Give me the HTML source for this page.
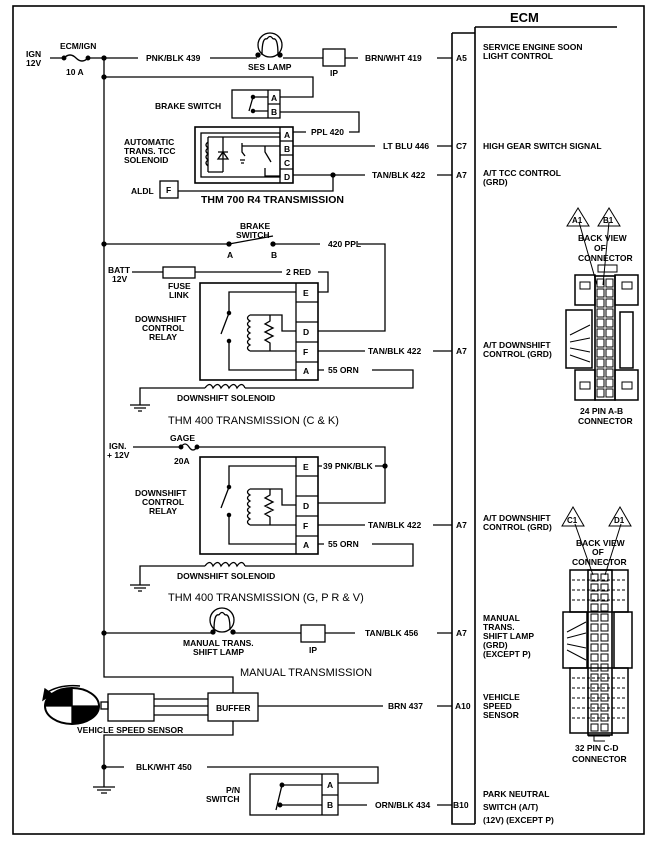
<!DOCTYPE html>
<html><head><meta charset="utf-8"><style>
html,body{margin:0;padding:0;background:#fff}
svg{display:block}
text{font-family:"Liberation Sans",sans-serif;font-weight:bold;font-size:8.5px;fill:#000}
.t{font-size:11px;font-weight:normal}
</style></head><body>
<svg width="669" height="857" viewBox="0 0 669 857" xmlns="http://www.w3.org/2000/svg" fill="none" stroke="#000" stroke-width="1.3">
<rect x="13" y="6" width="631" height="828" stroke-width="1.6"/>
<line x1="475" y1="27" x2="617" y2="27" stroke-width="1.6"/>
<path d="M475 27 V824 M452 33 H475 M452 33 V824 H475" stroke-width="1.6"/>
<text x="510" y="22" class="t" style="font-size:13px;font-weight:bold" stroke="none">ECM</text>

<text x="26" y="57" stroke="none">IGN</text><text x="26" y="66" stroke="none">12V</text>
<path d="M50 58 H64 M64 58 q6 -6 12 0 q6 6 12 0 H138 M210 58 H257 M283 58 H323 M345 58 H358 M437 58 H452"/>
<circle cx="64" cy="58" r="1.8" fill="#000"/><circle cx="88" cy="58" r="1.8" fill="#000"/>
<text x="60" y="49" stroke="none">ECM/IGN</text><text x="66" y="75" stroke="none">10 A</text>
<text x="146" y="61" stroke="none">PNK/BLK 439</text>
<circle cx="270" cy="45" r="12"/><path d="M262 55 q0 -18 5 -16 M278 55 q0 -18 -5 -16 M267 39 q3 -5 6 0"/>
<circle cx="258" cy="55" r="2" fill="#000"/><circle cx="280" cy="55" r="2" fill="#000"/>
<text x="248" y="70" stroke="none">SES LAMP</text>
<rect x="323" y="49" width="22" height="17"/><text x="330" y="76" stroke="none">IP</text>
<text x="365" y="61" stroke="none">BRN/WHT  419</text><text x="456" y="61" stroke="none">A5</text>
<text x="483" y="50" stroke="none">SERVICE ENGINE SOON</text><text x="483" y="59" stroke="none">LIGHT CONTROL</text>

<path d="M104 58 V677 H233 V693 M233 721 V735 H104 V787"/>
<circle cx="104" cy="58" r="2" fill="#000"/><circle cx="104" cy="77" r="2" fill="#000"/>
<path d="M104 77 H313 V97 H280"/>
<rect x="232" y="90" width="48" height="28"/><path d="M268 90 V118 M268 104 H280"/>
<text x="271" y="101" stroke="none">A</text><text x="271" y="115" stroke="none">B</text>
<path d="M253 97 H268 M253 97 L249 111 M253 111 H268"/><circle cx="253" cy="97" r="1.6" fill="#000"/><circle cx="253" cy="111" r="1.6" fill="#000"/>
<text x="155" y="109" stroke="none">BRAKE SWITCH</text>
<path d="M280 112 H359 V132 H349 M306 132 H293"/>
<text x="311" y="135" stroke="none">PPL 420</text>
<rect x="195" y="127" width="98" height="56" stroke-width="1.6"/>
<rect x="201" y="133" width="79" height="44"/>
<path d="M280 127 V183 M280 141 H293 M280 155 H293 M280 169 H293"/>
<text x="284" y="138" stroke="none">A</text><text x="284" y="152" stroke="none">B</text><text x="284" y="166" stroke="none">C</text><text x="284" y="180" stroke="none">D</text>
<path d="M208 137 V172 M208 137 h15 M208 172 h15 M223 137 V172 M208 142 q-4 3 0 6 q-4 3 0 6 q-4 3 0 6 q-4 3 0 6"/>
<path d="M218 159 h10 l-5 -7 z M218 152 h10" /><path d="M242 143 V152 l3 4 M240 160 h5 M241 163 h3"/>
<path d="M223 137 H280 M242 146 H265 H280 M265 146 V152 l6 10 M265 168 V176 H280"/>
<text x="124" y="145" stroke="none">AUTOMATIC</text><text x="124" y="154" stroke="none">TRANS. TCC</text><text x="124" y="163" stroke="none">SOLENOID</text>
<path d="M293 146 H375 M437 146 H452 M293 175 H365 M437 175 H452 M178 191 H333 V175"/>
<circle cx="333" cy="175" r="2" fill="#000"/>
<text x="383" y="149" stroke="none">LT BLU 446</text><text x="456" y="149" stroke="none">C7</text>
<text x="483" y="149" stroke="none">HIGH GEAR SWITCH SIGNAL</text>
<text x="372" y="178" stroke="none">TAN/BLK  422</text><text x="456" y="178" stroke="none">A7</text>
<text x="483" y="176" stroke="none">A/T TCC CONTROL</text><text x="483" y="185" stroke="none">(GRD)</text>
<rect x="160" y="181" width="18" height="17"/><text x="166" y="193" stroke="none">F</text><text x="131" y="194" stroke="none">ALDL</text>
<text x="201" y="203" class="t" style="font-weight:bold;font-size:10.5px" stroke="none">THM 700 R4 TRANSMISSION</text>

<circle cx="104" cy="244" r="2" fill="#000"/>
<path d="M104 244 H229 L273 236 M273 244 H320 M358 244 H385 V331 H318"/>
<circle cx="229" cy="244" r="2" fill="#000"/><circle cx="273" cy="244" r="2" fill="#000"/>
<text x="240" y="229" stroke="none">BRAKE</text><text x="236" y="238" stroke="none">SWITCH</text>
<text x="227" y="258" stroke="none">A</text><text x="271" y="258" stroke="none">B</text>
<text x="328" y="247" stroke="none">420 PPL</text>
<text x="108" y="273" stroke="none">BATT</text><text x="112" y="282" stroke="none">12V</text>
<path d="M132 272 H163 M195 272 H282 M318 272 H328 V292 H318"/>
<rect x="163" y="267" width="32" height="11"/>
<text x="168" y="289" stroke="none">FUSE</text><text x="169" y="298" stroke="none">LINK</text>
<text x="286" y="275" stroke="none">2 RED</text>
<g id="relay">
<rect x="200" y="283" width="118" height="97" stroke-width="1.6"/>
<path d="M296 283 V380 M296 302 H318 M296 322 H318 M296 342 H318 M296 362 H318"/>
<text x="303" y="296" stroke="none">E</text><text x="303" y="335" stroke="none">D</text><text x="303" y="355" stroke="none">F</text><text x="303" y="374" stroke="none">A</text>
<path d="M296 292 H229 V313 M229 313 L221 334 M229 341 V370 H296"/>
<circle cx="229" cy="313" r="1.6" fill="#000"/><circle cx="229" cy="341" r="1.6" fill="#000"/>
<path d="M270 315 H282 V331 H296 M270 351 H296 M250 315 H270 M250 351 H270 M250 315 q-5 3 0 6 q-5 3 0 6 q-5 3 0 6 q-5 3 0 6 q-5 3 0 6 q-5 3 0 6 M270 315 V321 l-5 3 l8 4 l-8 4 l8 4 l-8 4 l5 3 V351"/>
</g>
<text x="135" y="322" stroke="none">DOWNSHIFT</text><text x="142" y="331" stroke="none">CONTROL</text><text x="149" y="340" stroke="none">RELAY</text>
<path d="M318 351 H365 M433 351 H452 M318 370 H324 M372 370 H413 V388 H245 M205 388 H140 V405"/>
<path d="M205 388 q5 -7 8 0 q5 -7 8 0 q5 -7 8 0 q5 -7 8 0 q5 -7 8 0"/>
<path d="M130 405 H150 M134 408 H146 M138 411 H142"/>
<text x="368" y="354" stroke="none">TAN/BLK  422</text><text x="456" y="354" stroke="none">A7</text>
<text x="328" y="373" stroke="none">55 ORN</text>
<text x="177" y="401" stroke="none">DOWNSHIFT SOLENOID</text>
<text x="168" y="424" class="t" stroke="none">THM 400 TRANSMISSION (C &amp; K)</text>
<text x="483" y="348" stroke="none">A/T DOWNSHIFT</text><text x="483" y="357" stroke="none">CONTROL (GRD)</text>

<text x="109" y="449" stroke="none">IGN.</text><text x="107" y="458" stroke="none">+ 12V</text>
<path d="M133 447 H181 q4 -6 8 0 q4 6 8 0 H385 V503 H318 M318 466 H322 M375 466 H385"/>
<circle cx="181" cy="447" r="1.8" fill="#000"/><circle cx="197" cy="447" r="1.8" fill="#000"/><circle cx="385" cy="466" r="2" fill="#000"/>
<text x="170" y="441" stroke="none">GAGE</text><text x="174" y="464" stroke="none">20A</text>
<text x="323" y="469" stroke="none">39 PNK/BLK</text>
<use href="#relay" transform="translate(0,174)"/>
<text x="135" y="496" stroke="none">DOWNSHIFT</text><text x="142" y="505" stroke="none">CONTROL</text><text x="149" y="514" stroke="none">RELAY</text>
<path d="M318 525 H365 M433 525 H452 M318 544 H324 M372 544 H413 V566 H245 M205 566 H140 V585"/>
<path d="M205 566 q5 -7 8 0 q5 -7 8 0 q5 -7 8 0 q5 -7 8 0 q5 -7 8 0"/>
<path d="M130 585 H150 M134 588 H146 M138 591 H142"/>
<text x="368" y="528" stroke="none">TAN/BLK  422</text><text x="456" y="528" stroke="none">A7</text>
<text x="328" y="547" stroke="none">55 ORN</text>
<text x="177" y="579" stroke="none">DOWNSHIFT SOLENOID</text>
<text x="168" y="601" class="t" stroke="none">THM 400 TRANSMISSION (G, P R &amp; V)</text>
<text x="483" y="521" stroke="none">A/T DOWNSHIFT</text><text x="483" y="530" stroke="none">CONTROL (GRD)</text>

<circle cx="104" cy="633" r="2" fill="#000"/>
<path d="M104 633 H213 M233 633 H301 M325 633 H355 M437 633 H452"/>
<circle cx="222" cy="620" r="12"/><path d="M214 630 q0 -17 5 -15 M230 630 q0 -17 -5 -15 M219 615 q3 -5 6 0"/>
<circle cx="213" cy="632" r="2" fill="#000"/><circle cx="233" cy="632" r="2" fill="#000"/>
<rect x="301" y="625" width="24" height="17"/><text x="309" y="653" stroke="none">IP</text>
<text x="183" y="646" stroke="none">MANUAL TRANS.</text><text x="193" y="655" stroke="none">SHIFT LAMP</text>
<text x="365" y="636" stroke="none">TAN/BLK 456</text><text x="456" y="636" stroke="none">A7</text>
<text x="483" y="621" stroke="none">MANUAL</text><text x="483" y="630" stroke="none">TRANS.</text><text x="483" y="639" stroke="none">SHIFT LAMP</text><text x="483" y="648" stroke="none">(GRD)</text><text x="483" y="657" stroke="none">(EXCEPT P)</text>
<text x="240" y="676" class="t" stroke="none">MANUAL TRANSMISSION</text>

<ellipse cx="72" cy="706" rx="27" ry="18" stroke-width="2"/>
<path d="M72 688 V706 H99 A27 18 0 0 1 72 724 Z" fill="#000"/>
<path d="M45 706 A27 18 0 0 1 72 688 V706 Z" fill="#000"/>
<path d="M80 686 Q60 684 46 693" stroke-width="1.6"/><path d="M43 700 l2 -11 l7 5 z" fill="#000"/>
<rect x="101" y="702" width="7" height="7"/><rect x="108" y="694" width="46" height="27"/>
<path d="M154 699 H208 M154 706 H208 M154 715 H208"/>
<rect x="208" y="693" width="50" height="28"/><text x="216" y="711" stroke="none">BUFFER</text>
<text x="77" y="733" stroke="none">VEHICLE SPEED SENSOR</text>
<path d="M258 706 H383 M437 706 H452"/>
<text x="388" y="709" stroke="none">BRN 437</text><text x="455" y="709" stroke="none">A10</text>
<text x="483" y="700" stroke="none">VEHICLE</text><text x="483" y="709" stroke="none">SPEED</text><text x="483" y="718" stroke="none">SENSOR</text>

<circle cx="104" cy="767" r="2" fill="#000"/>
<path d="M104 767 H124 M207 767 H378 V783 H338"/>
<path d="M93 787 H115 M97 790 H111 M101 793 H107"/>
<text x="136" y="770" stroke="none">BLK/WHT  450</text>
<rect x="250" y="774" width="88" height="41"/><path d="M322 774 V815 M322 795 H338"/>
<text x="327" y="788" stroke="none">A</text><text x="327" y="808" stroke="none">B</text>
<path d="M282 785 H322 M280 805 H322 M282 785 L276 810"/><circle cx="282" cy="785" r="1.8" fill="#000"/><circle cx="280" cy="805" r="1.8" fill="#000"/>
<text x="226" y="793" stroke="none">P/N</text><text x="206" y="802" stroke="none">SWITCH</text>
<path d="M338 805 H367 M437 805 H452"/>
<text x="375" y="808" stroke="none">ORN/BLK 434</text><text x="453" y="808" stroke="none">B10</text>
<text x="483" y="797" stroke="none">PARK NEUTRAL</text><text x="483" y="810" stroke="none">SWITCH (A/T)</text><text x="483" y="823" stroke="none">(12V) (EXCEPT P)</text>

<g stroke-width="1">
<path d="M578 208 L567 226 L589 226 Z M609 208 L598 226 L620 226 Z"/>
<text x="572" y="223" stroke="none" style="font-size:8px">A1</text><text x="603" y="223" stroke="none" style="font-size:8px">B1</text>
<path d="M579 222 L597 285 M609 222 L603 285"/>
<text x="578" y="241" stroke="none">BACK VIEW</text><text x="594" y="251" stroke="none">OF</text><text x="578" y="261" stroke="none">CONNECTOR</text>
<rect x="595" y="276" width="20" height="124" stroke-width="1.6"/>
<path d="M598 265 H617 V272 H598 Z"/>
<rect x="575" y="275" width="20" height="30" stroke-width="1.5"/><rect x="615" y="275" width="23" height="30" stroke-width="1.5"/>
<rect x="575" y="370" width="20" height="30" stroke-width="1.5"/><rect x="615" y="370" width="23" height="30" stroke-width="1.5"/>
<rect x="566" y="310" width="26" height="58" stroke-width="1.5"/><rect x="620" y="312" width="13" height="56" stroke-width="1.5"/>
<path d="M570 335 L590 325 M570 342 L590 338 M570 348 L590 352 M570 355 L590 362"/>
<g id="pins24"><rect x="597" y="279" width="7" height="8"/><rect x="606" y="279" width="7" height="8"/></g>
<use href="#pins24" y="10"/><use href="#pins24" y="20"/><use href="#pins24" y="30"/><use href="#pins24" y="40"/><use href="#pins24" y="50"/>
<use href="#pins24" y="60"/><use href="#pins24" y="70"/><use href="#pins24" y="80"/><use href="#pins24" y="90"/><use href="#pins24" y="100"/><use href="#pins24" y="110"/>
<rect x="580" y="282" width="10" height="7"/><rect x="622" y="282" width="10" height="7"/><rect x="580" y="382" width="10" height="7"/><rect x="622" y="382" width="10" height="7"/>
</g>
<text x="580" y="414" stroke="none">24 PIN  A-B</text><text x="578" y="424" stroke="none">CONNECTOR</text>

<g stroke-width="1">
<path d="M573 507 L562 526 L584 526 Z M620 507 L609 526 L631 526 Z"/>
<text x="567" y="523" stroke="none" style="font-size:8px">C1</text><text x="614" y="523" stroke="none" style="font-size:8px">D1</text>
<path d="M575 524 L593 575 M621 524 L605 575"/>
<text x="576" y="546" stroke="none">BACK VIEW</text><text x="592" y="555" stroke="none">OF</text><text x="572" y="565" stroke="none">CONNECTOR</text>
<rect x="570" y="570" width="58" height="42" stroke-width="1.5"/><rect x="570" y="668" width="58" height="65" stroke-width="1.5"/>
<rect x="588" y="570" width="24" height="165" stroke-width="1.6"/>
<rect x="563" y="612" width="24" height="56" stroke-width="1.5"/><rect x="614" y="612" width="18" height="56" stroke-width="1.5"/>
<path d="M567 632 L586 622 M567 638 L586 633 M567 644 L586 648 M567 650 L586 660"/>
<g stroke-dasharray="3 2"><path d="M572 580 H626 M572 590 H626 M572 600 H626 M572 678 H626 M572 688 H626 M572 698 H626 M572 708 H626 M572 718 H626"/></g>
<g id="pins32"><rect x="591" y="574" width="7" height="7"/><rect x="601" y="574" width="7" height="7"/></g>
<use href="#pins32" y="10"/><use href="#pins32" y="20"/><use href="#pins32" y="30"/><use href="#pins32" y="40"/><use href="#pins32" y="50"/><use href="#pins32" y="60"/><use href="#pins32" y="70"/>
<use href="#pins32" y="80"/><use href="#pins32" y="90"/><use href="#pins32" y="100"/><use href="#pins32" y="110"/><use href="#pins32" y="120"/><use href="#pins32" y="130"/><use href="#pins32" y="140"/><use href="#pins32" y="150"/>
<path d="M588 736 H610 M594 736 V741 H605"/>
</g>
<text x="575" y="751" stroke="none">32 PIN  C-D</text><text x="572" y="762" stroke="none">CONNECTOR</text>
</svg>
</body></html>
